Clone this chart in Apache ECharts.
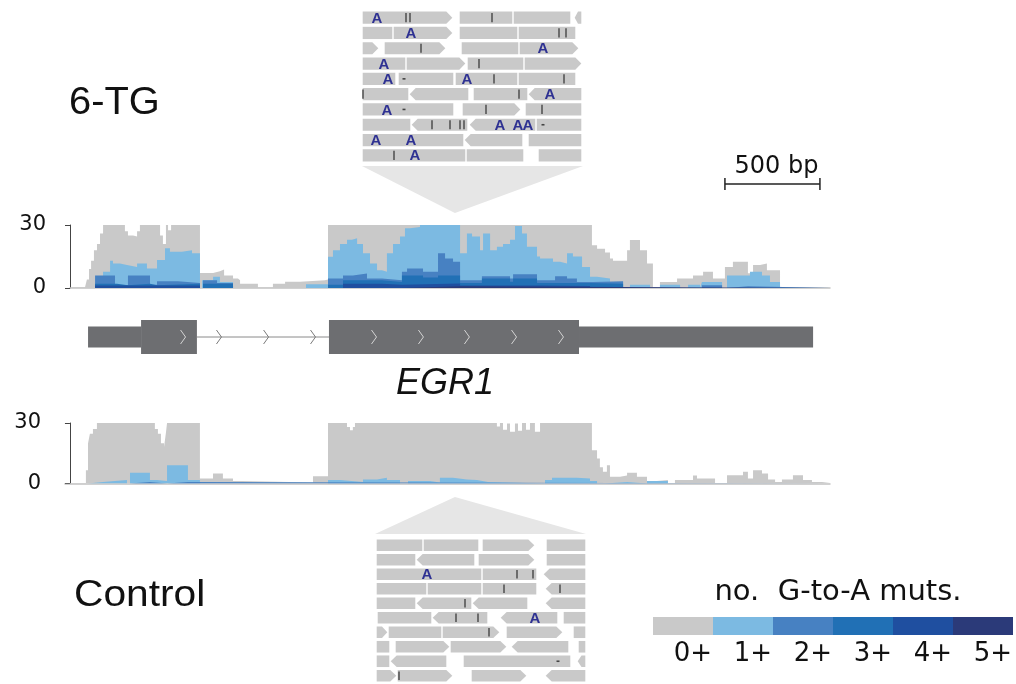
<!DOCTYPE html>
<html><head><meta charset="utf-8">
<script src="https://cdn.jsdelivr.net/npm/echarts@6/dist/echarts.min.js"></script>
<style>html,body{margin:0;padding:0;background:#fff}#c{width:1016px;height:684px}</style>
</head><body><div id="c"></div>
<script>
// ---------- legend / mutation levels ----------
const levelLabels = ['0+', '1+', '2+', '3+', '4+', '5+'];
const levelColors = ['#c9c9c9', '#7cbae2', '#4781c2', '#2170b5', '#1f4fa0', '#2b3a79'];
const yTicks = [0, 30];

// ---------- 6-TG coverage (bp, reads) per minimum no. of G-to-A mutations ----------
const tg0 = [[5,0.3],[79,0.5],[89,4],[100,9],[111,13],[126,18],[142,21],[158,26],[174,30],[289,27],[305,25],[332,24.5],[353,27],[368,30],[474,25],[489,21],[505,30],[516,27.5],[532,30],[684,7.2],[753,8],[789,8.8],[811,6],[858,4.5],[884,3.7],[895,2],[989,0.2],[1068,2],[1132,3],[1211,3.7],[1342,4],[1358,30],[2747,20.4],[2774,18.7],[2816,16.9],[2842,14],[2858,13],[2932,18],[2947,22.9],[3000,18],[3037,11.7],[3068,0.3],[3105,2.9],[3195,4.5],[3279,6],[3332,7.7],[3384,4.5],[3447,10],[3489,12.5],[3568,7],[3595,10.9],[3632,11.7],[3668,8.5],[3737,0.3],[4000,0.3]];
const tg1 = [[5,0],[142,5],[174,7.7],[211,13],[226,11.7],[263,10.9],[300,10],[353,11.7],[405,9.3],[458,13.3],[500,18.9],[526,17.3],[589,18],[642,16.5],[684,0],[695,3.7],[753,5.3],[789,2.9],[858,0],[1242,1.8],[1358,14.9],[1384,18],[1421,21],[1458,23],[1484,23.7],[1511,21],[1542,16.5],[1579,11.7],[1616,8.5],[1642,7.7],[1668,16.5],[1700,21],[1737,24.5],[1763,28.5],[1789,29],[1842,30],[2053,16.5],[2089,26],[2116,24.5],[2158,18],[2174,26],[2211,18],[2247,19.6],[2279,21],[2316,23],[2342,29.5],[2379,26],[2405,19.6],[2458,15],[2474,14],[2542,12.5],[2579,11.7],[2616,16.5],[2647,15],[2695,10],[2737,5.3],[2774,4.5],[2842,2.9],[2911,0],[2947,1.6],[3053,0],[3105,1.6],[3211,0],[3253,1.6],[3316,0],[3326,2.9],[3432,0],[3458,6],[3579,7.7],[3642,6],[3684,2.9],[3737,0],[4000,0]];
const tg2 = [[5,0],[132,6],[237,1.3],[305,6],[421,1.5],[458,3.2],[568,2.4],[684,0],[700,3.7],[774,2.4],[858,0],[1358,4.5],[1437,6],[1489,6.9],[1563,4.5],[1642,3.7],[1747,7.7],[1774,9.3],[1858,7.7],[1937,16.5],[1974,14],[2016,12.5],[2053,3.7],[2168,5.6],[2316,4.5],[2332,6.6],[2458,3.7],[2553,5.6],[2616,4.5],[2668,2.9],[2753,3.2],[2911,0],[3326,1.3],[3432,0],[3458,0.8],[3568,0],[4000,0]];
const tg3 = [[5,0],[132,2],[247,1.3],[305,2],[421,1.3],[458,2],[684,0],[700,2],[858,0],[1358,1.5],[1437,3.7],[1642,2.9],[1747,6],[1858,5],[1937,6],[2053,2.4],[2168,4.5],[2316,3],[2332,4.5],[2458,2.4],[2737,2],[2911,0],[4000,0]];
const tg4 = [[5,0],[132,1.2],[684,0],[1437,2],[1642,1.5],[1747,2.2],[2053,1.2],[2474,1],[2737,0],[4000,0]];
const tg5 = [[5,0],[1747,0.8],[2053,0],[4000,0]];

// ---------- Control coverage ----------
const ct0 = [[-26,0.3],[84,6.6],[95,19.8],[105,24.7],[121,27],[142,30],[447,27],[463,24.7],[479,20],[495,18],[505,25],[511,30],[684,2.5],[753,5],[805,2.5],[858,1.3],[905,0.5],[1279,3.6],[1358,30],[1458,28],[1474,26.4],[1489,28],[1500,30],[2247,28.3],[2263,30],[2279,26.7],[2300,29.7],[2316,25.6],[2342,29.7],[2358,26.2],[2379,30],[2400,26.7],[2421,30],[2447,25.6],[2474,30],[2747,16.5],[2774,12.4],[2789,8],[2805,5.8],[2826,9],[2842,3.3],[2895,4],[2932,5.3],[2984,3.3],[3037,1.3],[3089,1.7],[3147,0],[3184,1.7],[3279,4],[3300,2.5],[3395,0.3],[3458,4.1],[3542,5.8],[3568,2.5],[3595,6.6],[3642,5],[3674,2],[3711,0.7],[3747,2],[3805,4.1],[3858,1.7],[3905,0.7],[3958,0.2],[4000,0.2]];
const ct1 = [[-26,0],[95,0.8],[174,1.7],[300,0],[316,5.3],[421,1.7],[458,1.2],[511,9],[621,1.7],[684,0],[1358,1.7],[1421,0.8],[1542,2],[1616,2.8],[1668,1.7],[1737,0],[1779,1.3],[1895,0.5],[1947,2.8],[2016,2],[2089,1.7],[2142,0.8],[2200,0],[2500,1.7],[2537,2.8],[2668,2.5],[2737,1.2],[2774,0],[2816,0.8],[2932,0],[3037,1.2],[3147,0],[4000,0]];
const ct2 = [[-26,0],[316,0.8],[421,0],[511,0.8],[621,0],[4000,0]];

// ---------- EGR1 gene model (bp) ----------
const geneParts = [['utr',95,374],['cds',374,668],['intron',668,1363],['cds',1363,2679],['utr',2679,3911]];
const chevrons = [[595,'exon'],[784,'intron'],[1032,'intron'],[1279,'intron'],[1600,'exon'],[1847,'exon'],[2089,'exon'],[2337,'exon'],[2584,'exon']];
const zoomSiteBp = 2026;
const scaleBarBp = [3447, 3947];

// ---------- read pileups: [row, start, end, strand arrow] and marks [row, pos, kind] ----------
const tgReads = [[0,0,91,1],[0,97,151,0],[0,151,209,0],[0,212,220,-1],
 [1,0,31,0],[1,31,91,1],[1,97,156,0],[1,156,214,0],
 [2,0,17,1],[2,22,84,1],[2,99,157,0],[2,157,217,1],
 [3,0,44,0],[3,44,104,1],[3,105,162,0],[3,162,220,1],
 [4,0,34,0],[4,36,92,0],[4,93,156,0],[4,156,214,0],
 [5,0,47,0],[5,47,107,-1],[5,111,166,0],[5,166,220,-1],
 [6,0,92,0],[6,100,159,1],[6,163,220,0],
 [7,0,49,0],[7,49,106,-1],[7,107,174,-1],[7,174,220,0],
 [8,0,102,0],[8,102,161,-1],[8,166,220,0],
 [9,0,104,0],[9,104,162,0],[9,176,220,0]];
const tgMarks = [[0,15,'A'],[0,44,'|'],[0,48,'|'],[0,130,'|'],
 [1,49,'A'],[1,197,'|'],[1,204,'|'],
 [2,59,'|'],[2,181,'A'],
 [3,22,'A'],[3,117,'|'],
 [4,26,'A'],[4,42,'-'],[4,105,'A'],[4,132,'|'],[4,202,'|'],
 [5,1,'|'],[5,157,'|'],[5,188,'A'],
 [6,25,'A'],[6,42,'-'],[6,124,'|'],[6,180,'|'],
 [7,70,'|'],[7,88,'|'],[7,98,'|'],[7,102,'|'],[7,138,'A'],[7,156,'A'],[7,166,'A'],[7,181,'-'],
 [8,14,'A'],[8,49,'A'],
 [9,32,'|'],[9,53,'A']];
const ctReads = [[0,0,47,0],[0,47,103,0],[0,106,159,1],[0,170,210,0],
 [1,0,40,0],[1,40,99,-1],[1,102,159,1],[1,170,210,0],
 [2,0,106,0],[2,106,161,0],[2,167,210,-1],
 [3,0,51,0],[3,51,106,0],[3,106,161,0],[3,169,210,-1],
 [4,0,40,0],[4,40,96,-1],[4,96,152,-1],[4,169,210,-1],
 [5,1,56,0],[5,56,112,-1],[5,124,182,-1],[5,187,210,0],
 [6,0,12,1],[6,12,66,0],[6,66,124,1],[6,130,187,1],[6,197,210,0],
 [7,0,14,0],[7,19,74,1],[7,74,131,1],[7,135,193,-1],[7,202,210,0],
 [8,0,14,0],[8,14,71,-1],[8,87,195,0],[8,201,210,-1],
 [9,0,21,1],[9,21,77,1],[9,95,151,1],[9,169,210,-1]];
const ctMarks = [[2,51,'A'],[2,141,'|'],[2,157,'|'],[3,128,'|'],[3,184,'|'],[4,89,'|'],[5,80,'|'],[5,102,'|'],[5,159,'A'],[6,113,'|'],[8,182,'-'],[9,23,'|']];

const FONT = '"Liberation Sans", Arial, sans-serif';
const WIDE = '"DejaVu Sans", sans-serif';
const chart = echarts.init(document.getElementById('c'), null, {renderer: 'canvas'});

function covSeries(data, lvl, axis) {
  return {type: 'line', step: 'end', data: data, xAxisIndex: axis, yAxisIndex: axis,
    symbol: 'none', silent: true, lineStyle: {width: 0}, areaStyle: {color: levelColors[lvl], opacity: 1}, z: 2 + lvl};
}
function readSeries(data, axis) {
  return {type: 'custom', xAxisIndex: axis, yAxisIndex: axis, data: data, silent: true, clip: false,
    encode: {x: [1, 2], y: 0},
    renderItem: function (params, api) {
      const row = api.value(0), d = api.value(3);
      const p0 = api.coord([api.value(1), row + 0.5]);
      const p1 = api.coord([api.value(2), row + 0.5]);
      const h = api.size([0, 1])[1] * 0.8;
      const x0 = p0[0] + 0.7, x1 = p1[0] - 0.7, yc = p0[1];
      const t = Math.min(6, (x1 - x0) / 2);
      let pts;
      if (d === 1) pts = [[x0, yc - h / 2], [x1 - t, yc - h / 2], [x1, yc], [x1 - t, yc + h / 2], [x0, yc + h / 2]];
      else if (d === -1) pts = [[x0 + t, yc - h / 2], [x1, yc - h / 2], [x1, yc + h / 2], [x0 + t, yc + h / 2], [x0, yc]];
      else pts = [[x0, yc - h / 2], [x1, yc - h / 2], [x1, yc + h / 2], [x0, yc + h / 2]];
      return {type: 'polygon', shape: {points: pts}, style: {fill: '#c9c9c9'}};
    }
  };
}
function markSeries(data, axis) {
  return {type: 'custom', xAxisIndex: axis, yAxisIndex: axis, data: data, silent: true, clip: false, z: 5,
    encode: {x: 1, y: 0},
    renderItem: function (params, api) {
      const row = api.value(0), kind = data[params.dataIndex][2];
      const p = api.coord([api.value(1), row + 0.5]);
      const h = api.size([0, 1])[1] * 0.8;
      if (kind === 'A') return {type: 'text', style: {text: 'A', x: p[0], y: p[1] + 1, align: 'center', verticalAlign: 'middle', font: 'bold 15px ' + FONT, fill: '#2e3192'}};
      if (kind === '|') return {type: 'line', shape: {x1: p[0], y1: p[1] - h / 2 + 1.5, x2: p[0], y2: p[1] + h / 2 - 1.5}, style: {stroke: '#555', lineWidth: 1.6}};
      return {type: 'line', shape: {x1: p[0] - 1.5, y1: p[1], x2: p[0] + 1.5, y2: p[1]}, style: {stroke: '#444', lineWidth: 1.6}};
    }
  };
}

const covY = (idx) => ({gridIndex: idx, type: 'value', min: 0, max: 30, interval: 30, offset: 12,
  axisLine: {show: true, lineStyle: {color: '#444', width: 1}},
  axisTick: {show: true, length: 5, lineStyle: {color: '#444', width: 1}},
  axisLabel: {show: true, fontSize: 21, color: '#111', margin: 12, fontFamily: WIDE,
    formatter: v => (yTicks.indexOf(v) >= 0 ? String(v) : '')},
  splitLine: {show: false}});
const covX = (idx, min) => ({gridIndex: idx, type: 'value', min: min, max: 4000,
  axisLine: {show: true, onZero: false, lineStyle: {color: '#c2c2c2', width: 1.5}},
  axisTick: {show: false}, axisLabel: {show: false}, splitLine: {show: false}});
const hidden = (idx, min, max, inv) => ({gridIndex: idx, type: 'value', min: min, max: max, inverse: !!inv, show: false});

const option = {
  animation: false,
  backgroundColor: '#fff',
  grid: [
    {left: 70, top: 225, width: 760, height: 63},
    {left: 70, top: 320, width: 760, height: 34},
    {left: 65, top: 423, width: 765, height: 60.5},
    {left: 362, top: 10, width: 220, height: 153},
    {left: 376, top: 538, width: 210, height: 145}
  ],
  xAxis: [covX(0, 0), hidden(1, 0, 4000), covX(2, -26), hidden(3, 0, 220), hidden(4, 0, 210)],
  yAxis: [covY(0), hidden(1, 0, 1), covY(2), hidden(3, 0, 10, true), hidden(4, 0, 10, true)],
  series: [
    covSeries(tg0, 0, 0), covSeries(tg1, 1, 0), covSeries(tg2, 2, 0), covSeries(tg3, 3, 0), covSeries(tg4, 4, 0), covSeries(tg5, 5, 0),
    covSeries(ct0, 0, 2), covSeries(ct1, 1, 2), covSeries(ct2, 2, 2),
    {type: 'custom', xAxisIndex: 1, yAxisIndex: 1, data: geneParts.map(g => [g[1], g[2]]), silent: true, clip: false,
      encode: {x: [0, 1]},
      renderItem: function (params, api) {
        const kind = geneParts[params.dataIndex][0];
        const a = api.coord([api.value(0), 0.5]), b = api.coord([api.value(1), 0.5]);
        const H = api.size([0, 1])[1];
        if (kind === 'intron') return {type: 'line', shape: {x1: a[0], y1: a[1], x2: b[0], y2: b[1]}, style: {stroke: '#8a8a8a', lineWidth: 1}};
        const h = kind === 'cds' ? H : H * 0.62;
        return {type: 'rect', shape: {x: a[0], y: a[1] - h / 2, width: b[0] - a[0], height: h}, style: {fill: '#6d6e71'}};
      }},
    {type: 'custom', xAxisIndex: 1, yAxisIndex: 1, data: chevrons.map(c => [c[0]]), silent: true, clip: false, z: 4,
      encode: {x: 0},
      renderItem: function (params, api) {
        const inExon = chevrons[params.dataIndex][1] === 'exon';
        const p = api.coord([api.value(0), 0.5]);
        return {type: 'polyline', shape: {points: [[p[0] - 2.5, p[1] - 7], [p[0] + 2.5, p[1]], [p[0] - 2.5, p[1] + 7]]},
          style: {stroke: inExon ? '#d4d4d4' : '#7a7a7a', lineWidth: 1, fill: null}};
      }},
    readSeries(tgReads, 3), markSeries(tgMarks, 3),
    readSeries(ctReads, 4), markSeries(ctMarks, 4)
  ]
};
chart.setOption(option);

// ---------- annotations positioned from the axes ----------
const px = v => chart.convertToPixel({xAxisIndex: 0}, v);
const apexX = px(zoomSiteBp);
const sb0 = px(scaleBarBp[0]), sb1 = px(scaleBarBp[1]);
const graphics = [
  {type: 'polygon', z: -1, shape: {points: [[362, 166], [583, 166], [apexX, 213]]}, style: {fill: '#e6e6e6'}},
  {type: 'polygon', z: -1, shape: {points: [[apexX, 497], [375, 534], [586, 534]]}, style: {fill: '#e6e6e6'}},
  {type: 'text', x: 69, y: 104, scaleX: 1.05, style: {text: '6-TG', font: '38px ' + FONT, fill: '#111', verticalAlign: 'middle'}},
  {type: 'text', x: 74, y: 596, scaleX: 1.1, style: {text: 'Control', font: '37px ' + FONT, fill: '#111', verticalAlign: 'middle'}},
  {type: 'text', x: 445, y: 384, style: {text: 'EGR1', font: 'italic 36px ' + FONT, fill: '#111', align: 'center', verticalAlign: 'middle'}},
  {type: 'text', x: (sb0 + sb1) / 2 + 4, y: 167, style: {text: '500 bp', font: '24px ' + WIDE, fill: '#111', align: 'center', verticalAlign: 'middle'}},
  {type: 'line', shape: {x1: sb0, y1: 184, x2: sb1, y2: 184}, style: {stroke: '#222', lineWidth: 1.5}},
  {type: 'line', shape: {x1: sb0, y1: 178, x2: sb0, y2: 190}, style: {stroke: '#222', lineWidth: 1.5}},
  {type: 'line', shape: {x1: sb1, y1: 178, x2: sb1, y2: 190}, style: {stroke: '#222', lineWidth: 1.5}},
  {type: 'text', x: 838, y: 592, style: {text: 'no.  G-to-A muts.', font: '29px ' + WIDE, fill: '#111', align: 'center', verticalAlign: 'middle'}}
];
const legX = 653, legW = 60, legY = 617, legH = 18;
levelColors.forEach((c, i) => {
  graphics.push({type: 'rect', shape: {x: legX + i * legW, y: legY, width: legW, height: legH}, style: {fill: c}});
  graphics.push({type: 'text', x: legX + (i + 1) * legW - 1, y: 654, style: {text: levelLabels[i], font: '26px ' + WIDE, fill: '#111', align: 'right', verticalAlign: 'middle'}});
});
chart.setOption({graphic: graphics});
</script></body></html>
